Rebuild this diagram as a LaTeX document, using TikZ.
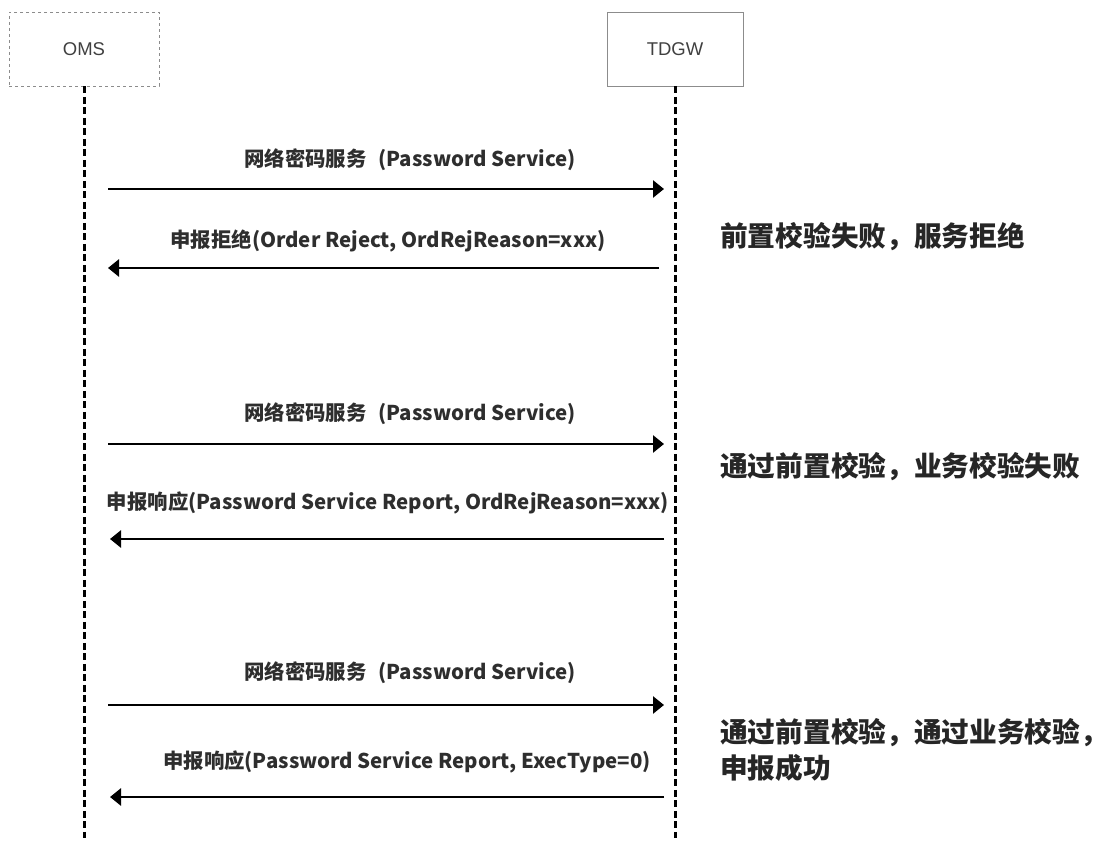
\documentclass[tikz,border=0pt]{standalone}
\usepackage{fontspec}
\setmainfont{Liberation Sans}
\newfontfamily\cjk{Noto Sans CJK SC}
\usetikzlibrary{arrows.meta}
\begin{document}
\begin{tikzpicture}[x=1pt,y=-1pt,
  actor/.style={draw=black!45, line width=0.9pt, minimum height=74pt, inner sep=0pt,
    font=\fontsize{18.5}{22}\selectfont, text=black!75},
  life/.style={line width=3pt, dash pattern=on 7pt off 3.5pt},
  msg/.style={line width=2.8pt, -{Triangle[length=11pt,width=17pt]}},
  lbl/.style={font=\cjk\bfseries\fontsize{20.4}{22}\selectfont, text=black!82, inner sep=0pt},
  note/.style={font=\cjk\bfseries\fontsize{27.7}{36}\selectfont, anchor=west, align=left, text=black!85, inner sep=0pt}]
\useasboundingbox (0,0) rectangle (1106,851);
\fill[white] (0,0) rectangle (1106,851);
% actors
\node[actor, dashed, minimum width=150pt] (oms) at (84,49) {OMS};
\node[actor, minimum width=136pt] (tdgw) at (675,49) {TDGW};
% lifelines
\coordinate (omsEnd) at (84,838);
\coordinate (tdgwEnd) at (675,838);
\draw[life] (oms.south) -- (omsEnd);
\draw[life] (tdgw.south) -- (tdgwEnd);
% message endpoints
\coordinate (m1s) at (108,189); \coordinate (m1e) at (664,189);
\coordinate (m2s) at (659,268); \coordinate (m2e) at (108,268);
\coordinate (m3s) at (108,444); \coordinate (m3e) at (664,444);
\coordinate (m4s) at (664,539); \coordinate (m4e) at (110,539);
\coordinate (m5s) at (108,705); \coordinate (m5e) at (664,705);
\coordinate (m6s) at (664,797); \coordinate (m6e) at (110,797);
\draw[msg] (m1s) -- (m1e);
\draw[msg] (m2s) -- (m2e);
\draw[msg] (m3s) -- (m3e);
\draw[msg] (m4s) -- (m4e);
\draw[msg] (m5s) -- (m5e);
\draw[msg] (m6s) -- (m6e);
% labels
\node[lbl] (l1) at (410,160) {网络密码服务\hspace{0.35em} (Password Service)};
\node[lbl] (l2) at (388,241) {申报拒绝(Order Reject, OrdRejReason=xxx)};
\node[lbl] (l3) at (410,414) {网络密码服务\hspace{0.35em} (Password Service)};
\node[lbl] (l4) at (388,503) {申报响应(Password Service Report, OrdRejReason=xxx)};
\node[lbl] (l5) at (410,673) {网络密码服务\hspace{0.35em} (Password Service)};
\node[lbl] (l6) at (407,762) {申报响应(Password Service Report, ExecType=0)};
% notes
\node[note] (n1) at (720,237) {前置校验失败，服务拒绝};
\node[note] (n2) at (720,467) {通过前置校验，业务校验失败};
\node[note] (n3) at (720,750) {通过前置校验，通过业务校验，\\申报成功};
\end{tikzpicture}
\end{document}
